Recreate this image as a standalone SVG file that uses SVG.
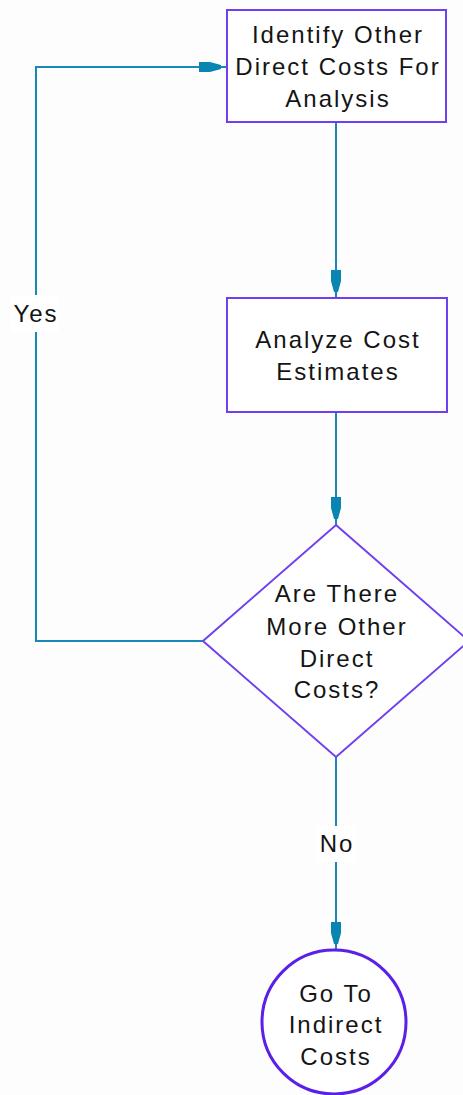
<svg xmlns="http://www.w3.org/2000/svg" width="463" height="1095" viewBox="0 0 463 1095">
<style>
.node{fill:#ffffff;stroke:#7040ee;stroke-width:2}
.term{fill:#ffffff;stroke:#5a20e8;stroke-width:3}
.conn{fill:none;stroke:#1888b8;stroke-width:2}
.t{font-family:"Liberation Sans",Arial,sans-serif;font-size:24px;letter-spacing:2px;fill:#141414;text-anchor:middle}
.lbg{fill:#ffffff}
</style>
<defs>
<marker id="ah" markerUnits="userSpaceOnUse" viewBox="-30 -8 32 16" markerWidth="32" markerHeight="16" refX="0" refY="0" orient="auto">
<path d="M -28,-5 L -17,-5 L -6,-2 L -6,2 L -17,5 L -28,5 Z" fill="#0a84b0"/>
</marker>
</defs>
<rect x="0" y="0" width="463" height="1095" fill="#fdfdfd"/>
<g id="connectors">
<path class="conn" d="M 336,122 L 336,298" marker-end="url(#ah)"/>
<path class="conn" d="M 336,412 L 336,525" marker-end="url(#ah)"/>
<path class="conn" d="M 203,641 L 36,641 L 36,67 L 227,67" marker-end="url(#ah)"/>
<path class="conn" d="M 336,757 L 336,950" marker-end="url(#ah)"/>
<g id="label-yes">
<rect class="lbg" x="11" y="295" width="48" height="37"/>
<text class="t" x="36" y="322">Yes</text>
</g>
<g id="label-no">
<rect class="lbg" x="316" y="826" width="40" height="36"/>
<text class="t" x="337" y="852">No</text>
</g>
</g>
<g id="node-identify">
<rect class="node" x="227" y="10" width="219" height="112"/>
<text class="t" x="338" y="43">Identify Other</text>
<text class="t" x="338" y="75">Direct Costs For</text>
<text class="t" x="338" y="107">Analysis</text>
</g>
<g id="node-analyze">
<rect class="node" x="227" y="298" width="220" height="114"/>
<text class="t" x="338" y="348">Analyze Cost</text>
<text class="t" x="338" y="380">Estimates</text>
</g>
<g id="node-decision">
<polygon class="node" points="336,525 469,641 336,757 203,641"/>
<text class="t" x="337" y="602">Are There</text>
<text class="t" x="337" y="635">More Other</text>
<text class="t" x="337" y="667">Direct</text>
<text class="t" x="337" y="698">Costs?</text>
</g>
<g id="node-goto">
<circle class="term" cx="334" cy="1022" r="72"/>
<text class="t" x="336" y="1002">Go To</text>
<text class="t" x="336" y="1033">Indirect</text>
<text class="t" x="336" y="1065">Costs</text>
</g>
</svg>
